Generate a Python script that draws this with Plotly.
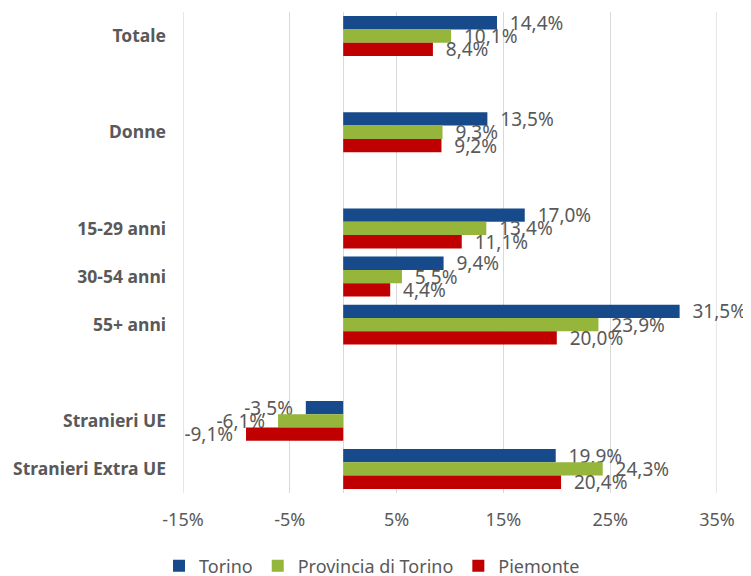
import plotly.graph_objects as go

# Categories (blank strings are empty spacer rows in the original chart)
categories = ["Totale", " ", "Donne", "  ", "15-29 anni", "30-54 anni", "55+ anni",
              "   ", "Stranieri UE", "Stranieri Extra UE"]
torino = [14.4, None, 13.5, None, 17.0, 9.4, 31.5, None, -3.5, 19.9]
provincia = [10.1, None, 9.3, None, 13.4, 5.5, 23.9, None, -6.1, 24.3]
piemonte = [8.4, None, 9.2, None, 11.1, 4.4, 20.0, None, -9.1, 20.4]

series_names = ["Torino", "Provincia di Torino", "Piemonte"]
series_colors = ["#164A8A", "#95B53B", "#C00000"]

x_tickvals = [-15, -5, 5, 15, 25, 35]
x_ticktext = ["-15%", "-5%", "5%", "15%", "25%", "35%"]

NB = "\u00a0\u00a0"


def fmt(v):
    if v is None:
        return ""
    s = f"{v:.1f}".replace(".", ",") + "%"
    return NB + s if v >= 0 else s + NB


# page body has an 8px margin: figure is sized to the remaining window
W, H = 743, 568
GRID = "#D9D9D9"

fig = go.Figure()
for name, vals, col in zip(series_names, [torino, provincia, piemonte], series_colors):
    fig.add_trace(go.Bar(
        y=categories, x=vals, name=name, orientation="h",
        marker=dict(color=col, line=dict(width=0)),
        text=[fmt(v) for v in vals], textposition="outside",
        constraintext="none", cliponaxis=False,
        textfont=dict(family="Noto Sans", size=19, color="#595959"),
    ))

# gridlines at the two range edges (plotly hides gridlines on the plot border)
for tv in (x_tickvals[0], x_tickvals[-1]):
    fig.add_shape(type="line", xref="x", yref="paper", x0=tv, x1=tv, y0=0, y1=1,
                  line=dict(color=GRID, width=1.3), layer="below")

fig.update_layout(
    width=W, height=H,
    margin=dict(l=175, r=34, t=4, b=83, autoexpand=False),
    paper_bgcolor="white", plot_bgcolor="white",
    barmode="group", bargap=0.17, bargroupgap=0,
    font=dict(family="Noto Sans", size=18, color="#595959"),
    showlegend=True,
    legend=dict(orientation="h", xref="container", yref="container",
                x=(372 - 8) / W, xanchor="center", y=1 - 558 / H, yanchor="middle",
                font=dict(family="Noto Sans", size=18, color="#595959"),
                traceorder="normal"),
    xaxis=dict(range=[x_tickvals[0], x_tickvals[-1]], tickvals=x_tickvals,
               ticktext=x_ticktext,
               showgrid=True, gridcolor=GRID, gridwidth=1.3,
               zeroline=True, zerolinecolor=GRID, zerolinewidth=1.3,
               showline=False, ticks="", ticklabelstandoff=14,
               tickfont=dict(family="Noto Sans", size=18, color="#595959")),
    yaxis=dict(type="category", categoryorder="array", categoryarray=categories,
               autorange="reversed", showgrid=False, zeroline=False, showline=False,
               ticks="", ticklabelstandoff=16,
               tickfont=dict(family="Noto Sans", size=17.5, color="#595959",
                             weight="bold")),
)

fig.write_html("out.html")
